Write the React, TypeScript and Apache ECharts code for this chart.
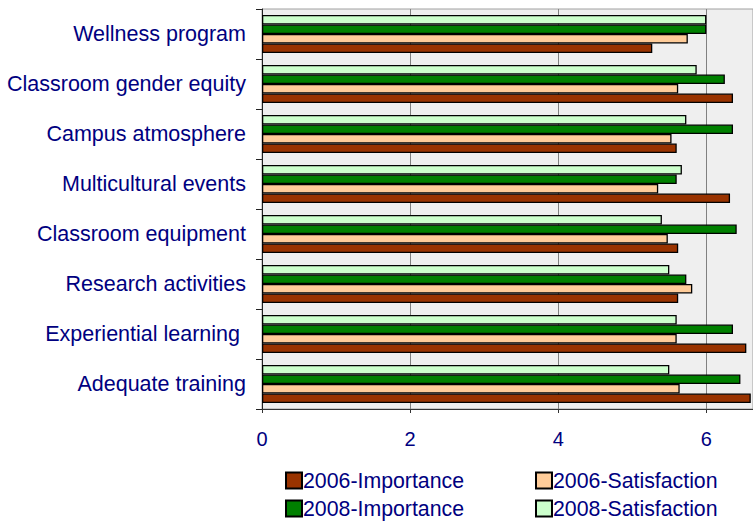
import React, { useEffect, useRef } from "react";
import * as echarts from "echarts";

const categories = [
  "Adequate training",
  "Experiential learning ",
  "Research activities",
  "Classroom equipment",
  "Multicultural events",
  "Campus atmosphere",
  "Classroom gender equity",
  "Wellness program",
];

const importance2006 = [6.6, 6.54, 5.62, 5.62, 6.32, 5.6, 6.36, 5.27];
const satisfaction2006 = [5.64, 5.6, 5.81, 5.48, 5.35, 5.53, 5.62, 5.75];
const importance2008 = [6.46, 6.36, 5.73, 6.41, 5.6, 6.36, 6.25, 6.0];
const satisfaction2008 = [5.5, 5.6, 5.5, 5.4, 5.67, 5.73, 5.87, 6.0];

const xTicks = { min: 0, max: 6.63, interval: 2 };

const seriesNames = ["2006-Importance", "2006-Satisfaction", "2008-Importance", "2008-Satisfaction"];
const seriesColors = ["#993300", "#FFCC99", "#008000", "#CCFFCC"];
const seriesData = [importance2006, satisfaction2006, importance2008, satisfaction2008];

const FONT = 'Arial, "Liberation Sans", sans-serif';
const NAVY = "#000080";

export default function App() {
  const ref = useRef<HTMLDivElement>(null);
  useEffect(() => {
    if (!ref.current) return;
    const chart = echarts.init(ref.current, null, { renderer: "svg" });
    const legendPos = [
      { left: 285, top: 470 },
      { left: 535, top: 470 },
      { left: 285, top: 498 },
      { left: 535, top: 498 },
    ];
    // ECharts stacks horizontal bars top-to-bottom in series order,
    // so series are added in reverse to put 2006-Importance at the bottom.
    const order = [3, 2, 1, 0];
    chart.setOption({
      animation: false,
      backgroundColor: "#ffffff",
      grid: {
        left: 262,
        right: 0,
        top: 9,
        bottom: 113,
        show: true,
        backgroundColor: "#efefef",
        borderColor: "#a0a0a0",
        borderWidth: 1,
      },
      legend: seriesNames.map((n, i) => ({
        data: [n],
        left: legendPos[i].left,
        top: legendPos[i].top,
        padding: 0,
        itemWidth: 16,
        itemHeight: 16,
        icon: "rect",
        textStyle: { fontSize: 21.3, color: NAVY, fontFamily: FONT, padding: [0, 0, 0, -4] },
        selectedMode: false,
      })),
      xAxis: {
        type: "value",
        min: xTicks.min,
        max: xTicks.max,
        interval: xTicks.interval,
        axisLine: { show: true, lineStyle: { color: "#333333", width: 1 } },
        axisTick: { show: true, length: 4, lineStyle: { color: "#333333" } },
        axisLabel: {
          fontSize: 20,
          color: NAVY,
          fontFamily: FONT,
          margin: 20,
          showMaxLabel: false,
        },
        splitLine: { show: true, lineStyle: { color: "#808080", width: 1 } },
      },
      yAxis: {
        type: "category",
        data: categories,
        axisLine: { show: true, lineStyle: { color: "#222222", width: 1 } },
        axisTick: { show: true, length: 6, lineStyle: { color: "#222222" } },
        axisLabel: {
          fontSize: 21.5,
          color: NAVY,
          fontFamily: FONT,
          margin: 16,
        },
        splitLine: { show: false },
      },
      series: order.map((i) => ({
        name: seriesNames[i],
        type: "bar",
        data: seriesData[i],
        barGap: "0%",
        barCategoryGap: "24%",
        itemStyle: { color: seriesColors[i], borderColor: "#000000", borderWidth: 1.3 },
      })),
    });
    return () => chart.dispose();
  }, []);
  return (
    <div
      ref={ref}
      style={{ position: "fixed", left: 0, top: 0, width: 753, height: 522 }}
    />
  );
}
